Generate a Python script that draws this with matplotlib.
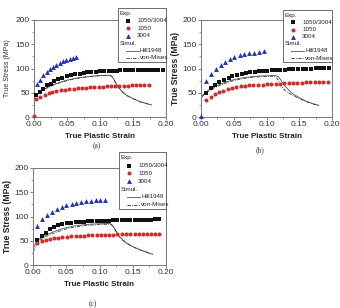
import matplotlib
matplotlib.use("Agg")
import matplotlib.pyplot as plt
from matplotlib.lines import Line2D
from matplotlib.patches import Rectangle
from matplotlib.ticker import MultipleLocator

plt.rcParams['font.family'] = ['Liberation Sans', 'DejaVu Sans']

# ---------------- data ----------------
# Panel (a)
a_comp_x = [0.003, 0.009, 0.014, 0.019, 0.025, 0.030, 0.037, 0.043, 0.050, 0.056, 0.062, 0.069, 0.075, 0.081, 0.087,
            0.094, 0.100, 0.106, 0.113, 0.119, 0.125, 0.131, 0.138, 0.144, 0.150, 0.157, 0.163, 0.169, 0.176, 0.182,
            0.188, 0.195]
a_comp_y = [45, 52, 58, 65, 69, 74, 78, 81, 84, 86, 88, 89, 91, 92, 93,
            93.5, 94, 94.5, 95, 95.3, 95.6, 95.9, 96.2, 96.4, 96.6, 96.8, 97, 97.2, 97.3, 97.5,
            97.6, 97.8]
a_1050_x = [0.0, 0.003, 0.009, 0.016, 0.022, 0.028, 0.034, 0.041, 0.047, 0.053, 0.060, 0.066, 0.072, 0.079, 0.085,
            0.091, 0.098, 0.104, 0.110, 0.117, 0.123, 0.129, 0.136, 0.142, 0.148, 0.155, 0.161, 0.167, 0.174]
a_1050_y = [3, 38, 42, 46, 49, 51.5, 53.5, 55, 56.5, 57.5, 58.5, 59.3, 60, 60.7, 61.3,
            61.8, 62.3, 62.8, 63.2, 63.6, 64, 64.3, 64.6, 64.9, 65.2, 65.5, 65.7, 66, 66.2]
a_3004_x = [0.004, 0.009, 0.014, 0.019, 0.024, 0.029, 0.034, 0.039, 0.044, 0.049, 0.054, 0.059, 0.064]
a_3004_y = [68, 77, 86, 93, 99, 104, 108, 112, 115, 118, 120, 122, 124]
a_hill_x = [0.0, 0.0, 0.005, 0.01, 0.02, 0.03, 0.04, 0.05, 0.06, 0.07, 0.08, 0.09, 0.10, 0.11, 0.115,
            0.118, 0.121, 0.124, 0.127, 0.13, 0.135, 0.14, 0.15, 0.16, 0.17, 0.178]
a_hill_y = [0, 40, 47, 53, 61, 67, 72, 76, 79, 81.5, 83, 84.5, 85.5, 86, 86,
            84, 78, 70, 63, 58, 51, 45, 38, 32, 28, 25]
a_vm_x = [0.0, 0.0, 0.005, 0.01, 0.02, 0.03, 0.04, 0.05, 0.06, 0.07, 0.08, 0.09, 0.10, 0.11, 0.115,
          0.118, 0.121, 0.124, 0.127, 0.13, 0.135, 0.14, 0.15, 0.16, 0.17, 0.178]
a_vm_y = [0, 39, 46, 52, 60, 66, 71, 75, 78, 80.5, 82.5, 84, 85, 85.5, 85.5,
          83.5, 77, 69, 62, 57, 50, 44.5, 37.5, 31.5, 27.5, 24.5]

# Panel (b)
b_comp_x = [0.008, 0.015, 0.022, 0.028, 0.035, 0.042, 0.048, 0.055, 0.062, 0.068, 0.075, 0.082, 0.088, 0.095, 0.101,
            0.108, 0.115, 0.121, 0.128, 0.135, 0.141, 0.148, 0.155, 0.161, 0.168, 0.175, 0.181, 0.188, 0.195]
b_comp_y = [50, 60, 67, 72, 77, 81, 84, 87, 89, 90.5, 92, 93, 94, 95, 95.5,
            96, 96.5, 97, 97.5, 98, 98.4, 98.8, 99.2, 99.5, 99.8, 100.1, 100.4, 100.7, 101]
b_1050_x = [0.008, 0.015, 0.021, 0.028, 0.034, 0.041, 0.048, 0.054, 0.061, 0.067, 0.074, 0.080, 0.087, 0.094, 0.100,
            0.107, 0.114, 0.120, 0.127, 0.134, 0.140, 0.147, 0.154, 0.160, 0.167, 0.174, 0.180, 0.187, 0.194]
b_1050_y = [35, 42, 47, 51, 54.5, 57.5, 60, 62, 63.5, 64.5, 65.5, 66, 66.5, 67, 67.5,
            68, 68.5, 69, 69.5, 70, 70.3, 70.6, 71, 71.3, 71.6, 72, 72.2, 72.5, 72.8]
b_3004_x = [0.0, 0.008, 0.016, 0.023, 0.030, 0.037, 0.044, 0.051, 0.059, 0.066, 0.073, 0.081, 0.089, 0.096]
b_3004_y = [3, 74, 89, 99, 107, 114, 119, 124, 127, 129, 131, 132, 134, 136]
b_hill_x = [0.0, 0.0, 0.005, 0.01, 0.02, 0.03, 0.04, 0.05, 0.06, 0.07, 0.08, 0.09, 0.10, 0.11, 0.115,
            0.118, 0.121, 0.124, 0.127, 0.13, 0.135, 0.14, 0.15, 0.16, 0.17, 0.18]
b_hill_y = [0, 42, 48, 54, 62, 68, 73, 77, 80, 82, 83.5, 84.5, 85, 85.5, 85,
            83, 78, 72, 66, 61, 54, 48, 40, 33, 28, 24]
b_vm_x = [0.0, 0.0, 0.005, 0.01, 0.02, 0.03, 0.04, 0.05, 0.06, 0.07, 0.08, 0.09, 0.10, 0.108, 0.112,
          0.116, 0.12, 0.124, 0.128, 0.133, 0.14, 0.15, 0.16, 0.17, 0.18]
b_vm_y = [0, 40, 46, 52, 60, 66, 71, 75, 78, 80.5, 82, 83, 83.5, 84, 84,
          80, 71, 62, 55, 50, 45, 38, 32, 27, 23.5]

# Panel (c)
c_comp_x = [0.006, 0.013, 0.019, 0.025, 0.032, 0.038, 0.044, 0.051, 0.057, 0.064, 0.070, 0.076, 0.082, 0.089, 0.096,
            0.102, 0.108, 0.115, 0.121, 0.127, 0.134, 0.140, 0.146, 0.153, 0.159, 0.165, 0.172, 0.178, 0.184, 0.190]
c_comp_y = [51.5, 60, 67, 73.5, 79, 82, 84.5, 86, 87, 88, 88.7, 89, 90, 90.3, 90.7,
            91, 91.3, 91.6, 91.9, 92.2, 92.4, 92.6, 92.8, 93, 93.2, 93.4, 93.6, 93.8, 94, 94.2]
c_1050_x = [0.006, 0.013, 0.019, 0.025, 0.032, 0.038, 0.044, 0.051, 0.057, 0.064, 0.070, 0.076, 0.082, 0.089, 0.096,
            0.102, 0.108, 0.115, 0.121, 0.127, 0.134, 0.140, 0.146, 0.153, 0.159, 0.165, 0.172, 0.178, 0.184, 0.190]
c_1050_y = [45, 49, 51.5, 53.5, 55, 56, 57.5, 58.4, 59, 59.5, 60, 60.5, 61, 61.3, 61.7,
            62, 62.3, 62.5, 62.8, 63, 63.2, 63.4, 63.6, 63.8, 64, 64.1, 64.3, 64.5, 64.6, 64.8]
c_3004_x = [0.006, 0.014, 0.021, 0.028, 0.036, 0.043, 0.050, 0.058, 0.065, 0.072, 0.079, 0.087, 0.094, 0.101, 0.109]
c_3004_y = [81, 94, 103, 110, 115.5, 120, 123, 126, 128, 130, 131, 132, 133, 134, 135]
c_hill_x = [0.0, 0.0, 0.005, 0.01, 0.02, 0.03, 0.04, 0.05, 0.06, 0.07, 0.08, 0.09, 0.10, 0.11, 0.115,
            0.118, 0.121, 0.124, 0.127, 0.13, 0.135, 0.14, 0.15, 0.16, 0.17, 0.18]
c_hill_y = [0, 34, 47, 54, 62, 68, 73, 77, 80, 82, 83.5, 84.5, 85, 85.5, 85.5,
            84, 79, 72, 65, 59, 52, 46, 38, 32, 27, 22]
c_vm_x = [0.0, 0.0, 0.005, 0.01, 0.02, 0.03, 0.04, 0.05, 0.06, 0.07, 0.08, 0.09, 0.10, 0.11, 0.115,
          0.118, 0.121, 0.124, 0.127, 0.13, 0.135, 0.14, 0.15, 0.16, 0.17, 0.18]
c_vm_y = [0, 26, 43, 51, 59, 65, 70, 74.5, 77.5, 80, 81.5, 82.5, 83.5, 84, 84,
          83, 78, 71, 64, 58, 51, 45, 37.5, 31.5, 26.5, 22]

legend_exp = ['1050/3004', '1050', '3004']
legend_sim = ['Hill1948', 'von-Mises']
x_ticks = [0.00, 0.05, 0.10, 0.15, 0.20]
y_ticks = [0, 50, 100, 150, 200]

# ---------------- styling ----------------
W, H = 340, 308
C_BLACK = '#111111'
C_RED = '#d42a2a'
C_BLUE = '#2030c0'
C_HILL = '#555555'
C_VM = '#333333'
MS_SQ, MS_CI, MS_TR = 2.8, 2.9, 3.5

fig = plt.figure(figsize=(W / 100, H / 100), dpi=100)
fig.patch.set_facecolor('white')


def fx(px):
    return px / W


def fy(py):
    return 1 - py / H


def make_axes(left, right, top, bottom):
    return fig.add_axes([fx(left), fy(bottom), (right - left) / W, (bottom - top) / H])


def style(ax, bold_ylabel=True):
    ax.set_xlim(0, 0.2)
    ax.set_ylim(0, 200)
    ax.set_xticks(x_ticks)
    ax.set_xticklabels([f'{v:.2f}' for v in x_ticks])
    ax.set_yticks(y_ticks)
    ax.xaxis.set_minor_locator(MultipleLocator(0.025))
    ax.yaxis.set_minor_locator(MultipleLocator(25))
    ax.tick_params(which='major', direction='out', length=2, width=0.5, pad=1,
                   labelsize=6.0, colors='#555555', labelcolor='#333333')
    ax.tick_params(which='minor', direction='out', length=1.2, width=0.4, colors='#555555')
    for s in ax.spines.values():
        s.set_color('#777777')
        s.set_linewidth(0.7)
    ax.set_xlabel('True Plastic Strain', fontsize=5.8, fontweight='bold', labelpad=3.5, color='#222222')
    if bold_ylabel:
        ax.set_ylabel('True Stress (MPa)', fontsize=6.2, fontweight='bold', labelpad=2, color='#222222')
    else:
        ax.set_ylabel('True Stress (MPa)', fontsize=5.0, labelpad=3, color='#333333')


def plot_panel(ax, cx, cy, rx, ry, bx, by, hx, hy, vx, vy):
    ax.plot(hx, hy, '-', color=C_HILL, lw=0.6, zorder=2)
    ax.plot(vx, vy, linestyle=(0, (4, 1.5, 1, 1.5)), color=C_VM, lw=0.6, zorder=2)
    ax.plot(cx, cy, 's', color=C_BLACK, ms=MS_SQ, mew=0, zorder=3, clip_on=False)
    ax.plot(rx, ry, 'o', color=C_RED, ms=MS_CI, mew=0, zorder=3, clip_on=False)
    ax.plot(bx, by, '^', color=C_BLUE, ms=MS_TR, mew=0, zorder=3, clip_on=False)


def draw_legend(left, top, right, bottom):
    fig.add_artist(Rectangle((fx(left), fy(bottom)), (right - left) / W, (bottom - top) / H,
                             transform=fig.transFigure, facecolor='white', edgecolor='#555555',
                             linewidth=0.6, zorder=5))
    step = (bottom - top) / 7.3
    rows = [top + step * (i + 0.75) for i in range(7)]
    fs = 4.5
    fig.text(fx(left + 1.5), fy(rows[0]), 'Exp.', fontsize=fs, va='center', ha='left', zorder=6, color='#222222')
    markers = [('s', C_BLACK, MS_SQ), ('o', C_RED, MS_CI), ('^', C_BLUE, MS_TR)]
    for i, (lab, (m, c, ms)) in enumerate(zip(legend_exp, markers)):
        y = rows[i + 1]
        fig.add_artist(Line2D([fx(left + 10)], [fy(y)], marker=m, color=c, ms=ms, mew=0,
                              linestyle='none', transform=fig.transFigure, zorder=6))
        fig.text(fx(left + 19), fy(y), lab, fontsize=fs, va='center', ha='left', zorder=6, color='#222222')
    fig.text(fx(left + 1.5), fy(rows[4]), 'Simul.', fontsize=fs, va='center', ha='left', zorder=6, color='#222222')
    styles = [('-', C_HILL), ((0, (4, 1.5, 1, 1.5)), C_VM)]
    for i, (lab, (ls, c)) in enumerate(zip(legend_sim, styles)):
        y = rows[5 + i]
        fig.add_artist(Line2D([fx(left + 8), fx(left + 21)], [fy(y), fy(y)], linestyle=ls, color=c,
                              lw=0.6, transform=fig.transFigure, zorder=6))
        fig.text(fx(left + 22), fy(y), lab, fontsize=fs, va='center', ha='left', zorder=6, color='#222222')


# Panel (a)
ax_a = make_axes(34, 166, 20, 117)
plot_panel(ax_a, a_comp_x, a_comp_y, a_1050_x, a_1050_y, a_3004_x, a_3004_y, a_hill_x, a_hill_y, a_vm_x, a_vm_y)
style(ax_a, bold_ylabel=False)
draw_legend(118, 8, 166, 62)
fig.text(fx(97), fy(146), '(a)', fontsize=5.5, family='Liberation Serif', ha='center', va='center', color='#333333')

# Panel (b)
ax_b = make_axes(201, 332, 20, 117)
plot_panel(ax_b, b_comp_x, b_comp_y, b_1050_x, b_1050_y, b_3004_x, b_3004_y, b_hill_x, b_hill_y, b_vm_x, b_vm_y)
style(ax_b)
draw_legend(283, 10, 332, 62)
fig.text(fx(260), fy(150), '(b)', fontsize=5.5, family='Liberation Serif', ha='center', va='center', color='#333333')

# Panel (c)
ax_c = make_axes(33, 166, 168, 265)
plot_panel(ax_c, c_comp_x, c_comp_y, c_1050_x, c_1050_y, c_3004_x, c_3004_y, c_hill_x, c_hill_y, c_vm_x, c_vm_y)
style(ax_c)
draw_legend(119, 152, 166, 209)
fig.text(fx(93), fy(304), '(c)', fontsize=5.5, family='Liberation Serif', ha='center', va='center', color='#333333')

fig.savefig('out.png', dpi=100, facecolor='white')
